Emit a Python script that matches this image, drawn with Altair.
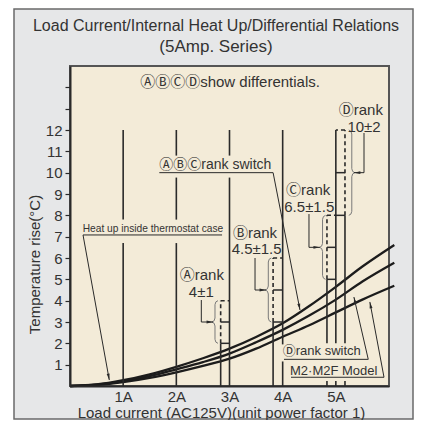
import math
import altair as alt
import pandas as pd

FONT = "Liberation Sans, Arial, Helvetica, Noto Sans CJK JP, sans-serif"
INK = "#2a2a2a"
TXT = "#333333"

# ---------------- data ----------------
amps = [1, 2, 3, 4, 5]
y_ticks = list(range(1, 15))

curve_x = [0, 0.5, 1, 1.5, 2, 2.5, 3, 3.5, 4, 4.5, 5, 5.5, 6.1]
curve_top = [0, 0.07, 0.27, 0.55, 0.90, 1.30, 1.75, 2.30, 2.94, 3.75, 4.65, 5.60, 6.61]
curve_mid = [0, 0.06, 0.22, 0.46, 0.78, 1.12, 1.52, 2.05, 2.63, 3.30, 4.05, 4.90, 5.78]
curve_low = [0, 0.05, 0.18, 0.38, 0.64, 0.94, 1.28, 1.75, 2.31, 2.85, 3.45, 4.05, 4.70]

# current lines (x, from, to) - interrupted where labels sit
amp_segments = [
    (1, 0, 6.7), (1, 7.8, 12),
    (2, 0, 6.7), (2, 7.8, 9.77), (2, 10.8, 12),
    (3, 0, 9.77), (3, 10.8, 12),
    (4, 0, 1.15), (4, 1.95, 12),
    (5, 0, 0.23), (5, 2.0, 12),
]

# rank switch boxes
rank_edge = [2.834, 3.82, 4.833, 5.172]
rank_amp = [3, 4, 5, 5]
rank_lo = [2, 3, 5, 8]
rank_mid = [3, 4.5, 6.5, 10]
rank_hi = [4, 6, 8, 12]
brace_x = [2.727, 3.73, 4.75, 5.30]
brace_side = [-1, -1, -1, 1]
edge_segments = [(2.834, 0, 2), (3.82, 0, 3), (4.833, 0, 0.23), (4.833, 2.0, 5),
                 (5.172, 0, 0.23), (5.172, 2.0, 8)]

# labels: text, x, y, size
center_labels = [
    ("ⒶⒷⒸⒹshow differentials.", 3.01, 14.25, 15),
    ("Ⓓrank", 5.47, 12.94, 15),
    ("10±2", 5.53, 12.14, 15),
    ("Ⓒrank", 4.48, 9.19, 15),
    ("6.5±1.5", 4.50, 8.41, 15),
    ("Ⓑrank", 3.48, 7.16, 15),
    ("4.5±1.5", 3.51, 6.41, 15),
    ("Ⓐrank", 2.48, 5.20, 15),
    ("4±1", 2.47, 4.39, 15),
    ("Ⓓrank switch", 4.736, 1.64, 13),
    ("M2·M2F Model", 4.96, 0.70, 13),
]
left_labels = [
    ("ⒶⒷⒸrank switch", 1.68, 10.36, 14),
    ("Heat up inside thermostat case", 0.24, 7.36, 10.2),
]

# leader lines (underline + pointer), last point is the arrow tip
leaders = [
    [(1.68, 10.0), (3.82, 10.0), (4.326, 3.56)],
    [(2.86, 7.08), (0.245, 7.08), (0.739, 0.28)],
    [(4.025, 1.25), (5.61, 1.25), (5.34, 4.17)],
    [(4.157, 0.41), (5.906, 0.41), (5.64, 3.94)],
    [(2.47, 4.03), (2.47, 3.0), (2.69, 3.0)],
    [(3.48, 6.0), (3.48, 4.5), (3.686, 4.5)],
    [(4.495, 8.06), (4.495, 6.5), (4.70, 6.5)],
    [(5.53, 11.86), (5.53, 10.0), (5.34, 10.0)],
]

# ---------------- geometry ----------------
W, H = 319, 320
XMAX, YMAX = 6, 15
PX = W / XMAX
PY = H / YMAX

xs = alt.Scale(domain=[0, XMAX], nice=False, zero=False)
ys = alt.Scale(domain=[0, YMAX], nice=False, zero=False)
x_axis = alt.Axis(values=amps, labelExpr="datum.value + 'A'", ticks=False, grid=False,
                  domainColor=INK, domainWidth=2, labelFont=FONT, labelFontSize=15,
                  labelColor=TXT, labelPadding=3,
                  title="Load current (AC125V)(unit power factor 1)", titleFont=FONT,
                  titleFontSize=15, titleFontWeight="normal", titleColor=TXT,
                  titleX=151, titleY=26, titleAlign="center", titleBaseline="middle",
                  zindex=1)
y_axis = alt.Axis(values=y_ticks, labelExpr="datum.value <= 12 ? datum.label : ''",
                  grid=False, tickSize=5, tickColor=INK, tickWidth=1.2,
                  domainColor=INK, domainWidth=2, labelFont=FONT, labelFontSize=15,
                  labelColor=TXT, labelPadding=3,
                  title="Temperature rise(°C)", titleFont=FONT, titleFontSize=15,
                  titleFontWeight="normal", titleColor=TXT, titleAngle=270,
                  titleX=-36, titleY=198, titleAlign="center", titleBaseline="middle",
                  zindex=1)

X = alt.X("x:Q", scale=xs, axis=x_axis)
Y = alt.Y("y:Q", scale=ys, axis=y_axis)

one = pd.DataFrame({"a": [0]})

frame = alt.Chart(one).mark_rect(fill="#e6e7e8", stroke="#6a6a6a", strokeWidth=1.5).encode(
    x=alt.value(-56), x2=alt.value(343), y=alt.value(-57), y2=alt.value(353))
plotbg = alt.Chart(one).mark_rect(fill="#f3ebd8", stroke="#555555", strokeWidth=2).encode(
    x=alt.value(0), x2=alt.value(W), y=alt.value(0), y2=alt.value(H))
title1 = alt.Chart(one).mark_text(font=FONT, fontSize=16, color=TXT, baseline="middle").encode(
    x=alt.value(146), y=alt.value(-40), text=alt.value("Load Current/Internal Heat Up/Differential Relations"))
title2 = alt.Chart(one).mark_text(font=FONT, fontSize=17, color=TXT, baseline="middle").encode(
    x=alt.value(146), y=alt.value(-19), text=alt.value("(5Amp. Series)"))

curves = pd.DataFrame(
    [{"x": x, "y": v, "s": name} for name, vals in
     (("top", curve_top), ("mid", curve_mid), ("low", curve_low))
     for x, v in zip(curve_x, vals)])
curve_layer = alt.Chart(curves).mark_line(interpolate="monotone", clip=False, color="#1c1c1c",
                                          strokeWidth=2.3).encode(x=X, y=Y, detail="s:N")

vert = pd.DataFrame(amp_segments + edge_segments, columns=["x", "y", "y2"])
vert_layer = alt.Chart(vert).mark_rule(color=INK, strokeWidth=1.6).encode(x=X, y=Y, y2="y2:Q")

dashed = pd.DataFrame([(e, lo, hi) for e, lo, hi in zip(rank_edge, rank_lo, rank_hi)],
                      columns=["x", "y", "y2"])
dashed_layer = alt.Chart(dashed).mark_rule(color=INK, strokeWidth=1.6, strokeDash=[4, 3]).encode(
    x=X, y=Y, y2="y2:Q")

hsolid = pd.DataFrame([(e, a, v) for e, a, lo, mid in zip(rank_edge, rank_amp, rank_lo, rank_mid)
                       for v in (lo, mid)], columns=["x", "x2", "y"])
hsolid_layer = alt.Chart(hsolid).mark_rule(color=INK, strokeWidth=1.5).encode(x=X, x2="x2:Q", y=Y)
hdash = pd.DataFrame([(e, a, hi) for e, a, hi in zip(rank_edge, rank_amp, rank_hi)],
                     columns=["x", "x2", "y"])
hdash_layer = alt.Chart(hdash).mark_rule(color=INK, strokeWidth=1.5, strokeDash=[4, 3]).encode(
    x=X, x2="x2:Q", y=Y)

# braces
brace_rows = []
a = 3.0 / PX
r = 4.0 / PY
for i, (xb, s, lo, mid, hi) in enumerate(zip(brace_x, brace_side, rank_lo, rank_mid, rank_hi)):
    e = -s
    pts = [(xb + e * a, hi), (xb + e * a * 0.3, hi - r * 0.3), (xb, hi - r), (xb, mid + r),
           (xb + s * a * 0.3, mid + r * 0.3), (xb + s * a, mid),
           (xb + s * a * 0.3, mid - r * 0.3), (xb, mid - r), (xb, lo + r),
           (xb + e * a * 0.3, lo + r * 0.3), (xb + e * a, lo)]
    for k, (px, py) in enumerate(pts):
        brace_rows.append({"x": px, "y": py, "id": i, "k": k})
brace_layer = alt.Chart(pd.DataFrame(brace_rows)).mark_line(color="#7a7a7a", strokeWidth=1).encode(
    x=X, y=Y, detail="id:N", order="k:Q")

# leaders and arrowheads
lead_rows, head_rows = [], []
for i, path in enumerate(leaders):
    for k, (px, py) in enumerate(path):
        lead_rows.append({"x": px, "y": py, "id": i, "k": k})
    (x0, y0), (x1, y1) = path[-2], path[-1]
    dxp, dyp = (x1 - x0) * PX, -(y1 - y0) * PY
    ln = math.hypot(dxp, dyp)
    ux, uy = dxp / ln, dyp / ln
    ang = math.degrees(math.atan2(dxp, -dyp)) % 360
    back = 3.2
    head_rows.append({"x": x1 - back * ux / PX, "y": y1 + back * uy / PY, "ang": ang})
lead_layer = alt.Chart(pd.DataFrame(lead_rows)).mark_line(color=INK, strokeWidth=1).encode(
    x=X, y=Y, detail="id:N", order="k:Q")
head_layer = alt.Chart(pd.DataFrame(head_rows)).mark_point(
    shape="M0,-1L0.45,1L-0.45,1Z", filled=True, color=INK, opacity=1, size=42).encode(
    x=X, y=Y, angle=alt.Angle("ang:Q", scale=None))


def text_layer(rows, align, font):
    df = pd.DataFrame(rows, columns=["t", "x", "y", "fs"])
    return alt.Chart(df).mark_text(align=align, baseline="middle", font=font, color=TXT).encode(
        x=X, y=Y, text="t:N", size=alt.Size("fs:Q", scale=None))


chart = alt.layer(
    frame, plotbg, curve_layer, vert_layer, dashed_layer, hsolid_layer, hdash_layer,
    brace_layer, lead_layer, head_layer,
    text_layer(center_labels, "center", FONT),
    text_layer(left_labels, "left", FONT),
    title1, title2,
).properties(
    width=W, height=H,
    autosize=alt.AutoSizeParams(type="none"),
    padding={"left": 62, "top": 58, "right": 25, "bottom": 34},
    background="white",
).configure_view(stroke=None)

chart.save("out.html", embed_options={"renderer": "svg", "actions": False})
